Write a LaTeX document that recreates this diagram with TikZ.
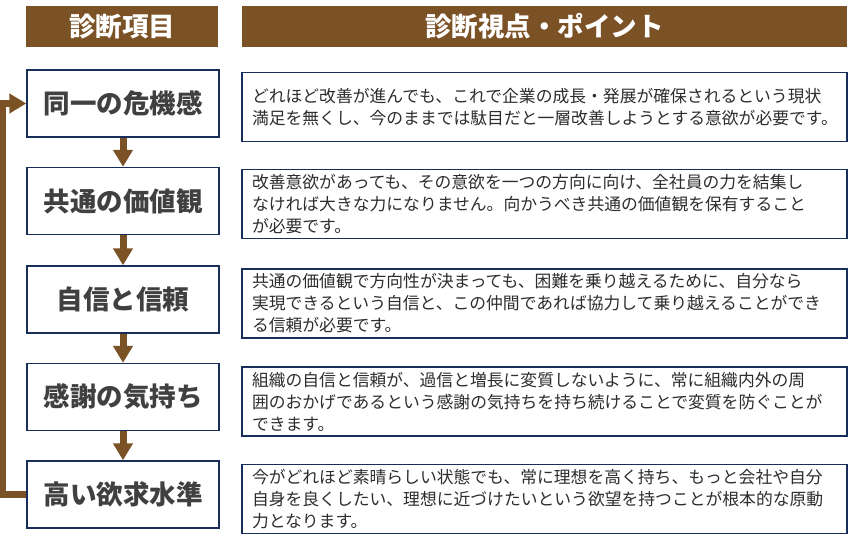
\documentclass[tikz,border=0pt]{standalone}
\usepackage{fontspec}
\setmainfont{Noto Sans CJK JP}
\usetikzlibrary{arrows.meta, positioning}
\definecolor{hdbrown}{RGB}{123,81,38}
\definecolor{boxnavy}{RGB}{23,45,90}
\definecolor{txtgray}{RGB}{64,64,64}
\definecolor{bodygray}{RGB}{45,45,45}

\tikzset{
	header/.style={fill=hdbrown, text=white, inner sep=0pt, minimum height=41pt, font=\fontsize{26.5}{30}\selectfont\bfseries},
	item/.style={draw=boxnavy, line width=1.4pt, fill=white, text=txtgray, inner sep=0pt, minimum width=192pt, minimum height=67pt, font=\fontsize{26.5}{30}\selectfont\bfseries},
	point/.style={draw=boxnavy, line width=1.4pt, fill=white, text=bodygray, inner xsep=10pt, inner ysep=0pt, text width=585pt, minimum height=69pt, align=left, font=\fontsize{16.8}{22}\selectfont},
	flow/.style={draw=hdbrown, line width=7pt, -{Triangle[width=19pt,length=17pt]}}
}

\begin{document}
\begin{tikzpicture}[x=1pt,y=-1pt]
		\useasboundingbox (0,0) rectangle (858,545);
		
		\node[header, minimum width=192pt] (itemhd) at (122,26.5){診断項目};
		\node[header, minimum width=605pt] (pointhd) at (544.5,26.5){診断視点・ポイント};
		
		\node[item] (sense) at (123,103.5){同一の危機感};
		\node[item] (values) at (123,201){共通の価値観};
		\node[item] (trust) at (123,299.5){自信と信頼};
		\node[item] (thanks) at (123,397){感謝の気持ち};
		\node[item] (aim) at (123,494.5){高い欲求水準};
		
		\node[point] (sensept) at (544.5,107){どれほど改善が進んでも、これで企業の成長・発展が確保されるという現状\\満足を無くし、今のままでは駄目だと一層改善しようとする意欲が必要です。};
		\node[point] (valuespt) at (544.5,204){改善意欲があっても、その意欲を一つの方向に向け、全社員の力を結集し\\なければ大きな力になりません。向かうべき共通の価値観を保有すること\\が必要です。};
		\node[point] (trustpt) at (544.5,303.5){共通の価値観で方向性が決まっても、困難を乗り越えるために、自分なら\\実現できるという自信と、この仲間であれば協力して乗り越えることができ\\る信頼が必要です。};
		\node[point] (thankspt) at (544.5,401.5){組織の自信と信頼が、過信と増長に変質しないように、常に組織内外の周\\囲のおかげであるという感謝の気持ちを持ち続けることで変質を防ぐことが\\できます。};
		\node[point] (aimpt) at (544.5,499){今がどれほど素晴らしい状態でも、常に理想を高く持ち、もっと会社や自分\\自身を良くしたい、理想に近づけたいという欲望を持つことが根本的な原動\\力となります。};
		
		\draw[flow] (sense) -- (values);
		\draw[flow] (values) -- (trust);
		\draw[flow] (trust) -- (thanks);
		\draw[flow] (thanks) -- (aim);
		
		\draw[flow] (aim.west) -- ++(-24,0) |- (sense.west);
	\end{tikzpicture}
\end{document}
